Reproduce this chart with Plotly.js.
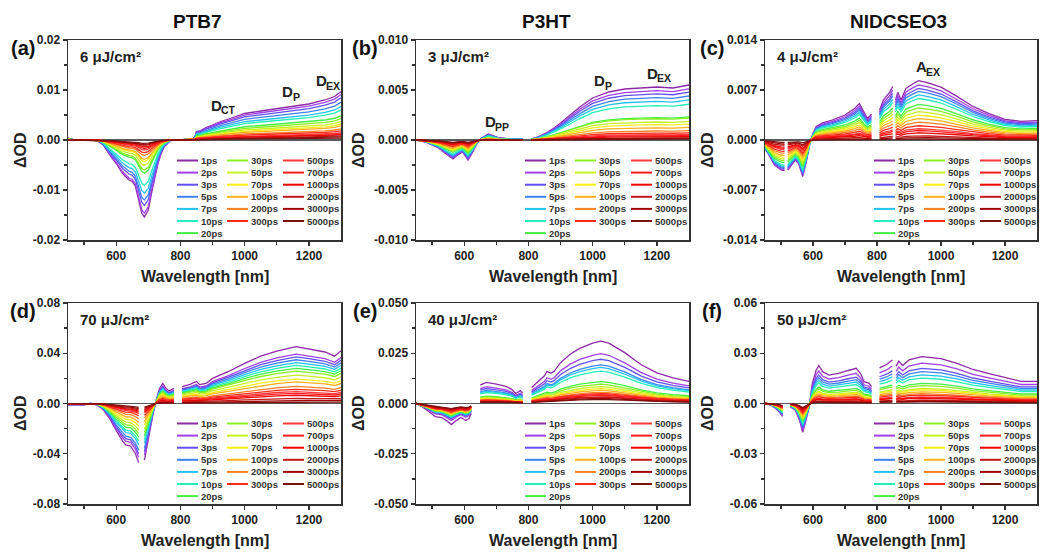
<!DOCTYPE html>
<html><head><meta charset="utf-8">
<script src="https://cdn.plot.ly/plotly-3.0.1.min.js"></script>
<style>html,body{margin:0;padding:0;background:#fff}#chart{width:1041px;height:552px}</style>
</head><body><div id="chart"></div>
<script>
// ---------- data ----------
const delays = ['1ps','2ps','3ps','5ps','7ps','10ps','20ps','30ps','50ps','70ps','100ps','200ps','300ps','500ps','700ps','1000ps','2000ps','3000ps','5000ps'];
const delayColors = ['#8e2aa8','#a040e6','#6450f2','#3f82f2','#22c2f2','#22f0b8','#44ee44','#88f020','#c8f020','#f6ee18','#ffb01a','#ff8022','#ff2a18','#ff3a3a','#ff1c1c','#ee0404','#c41818','#a00808','#7e1010'];

const panelTitles = ['PTB7','P3HT','NIDCSEO3'];
const panelLabels = ['(a)','(b)','(c)','(d)','(e)','(f)'];
const fluences = ['6 μJ/cm²','3 μJ/cm²','4 μJ/cm²','70 μJ/cm²','40 μJ/cm²','50 μJ/cm²'];

const xTickVals = [600,800,1000,1200];
const xTickText = ['600','800','1000','1200'];
const xMinorVals = [500,700,900,1100];

// y-axis ticks per panel
const yTicks_a = [-0.02,-0.01,0,0.01,0.02];   const yText_a = ['-0.02','-0.01','0.00','0.01','0.02'];
const yTicks_b = [-0.01,-0.005,0,0.005,0.01]; const yText_b = ['-0.010','-0.005','0.000','0.005','0.010'];
const yTicks_c = [-0.014,-0.007,0,0.007,0.014]; const yText_c = ['-0.014','-0.007','0.000','0.007','0.014'];
const yTicks_d = [-0.08,-0.04,0,0.04,0.08];   const yText_d = ['-0.08','-0.04','0.00','0.04','0.08'];
const yTicks_e = [-0.05,-0.025,0,0.025,0.05]; const yText_e = ['-0.050','-0.025','0.000','0.025','0.050'];
const yTicks_f = [-0.06,-0.03,0,0.03,0.06];   const yText_f = ['-0.06','-0.03','0.00','0.03','0.06'];

// (a) PTB7 6 uJ/cm2 : 1 ps spectrum
const wl_a = [450,470,500,530,545,560,580,600,620,640,650,660,670,680,688,700,710,720,730,740,750,760,770,800,840,845,850,860,880,900,925,950,1000,1050,1100,1150,1200,1250,1280,1300];
const od_a = [0.0004,0,0,0,-0.0003,-0.001,-0.003,-0.0047,-0.0067,-0.008,-0.0083,-0.0093,-0.012,-0.0147,-0.0154,-0.014,-0.0107,-0.0073,-0.0047,-0.0027,-0.0013,-0.0007,0,0,0.0003,0.0006,0.0017,0.0018,0.0025,0.003,0.0037,0.0042,0.0053,0.0058,0.0063,0.0067,0.0072,0.008,0.0087,0.0097];
// (b) P3HT 3 uJ/cm2
const wl_b = [450,480,500,520,540,565,580,595,612,625,640,655,675,690,710,750,782,795,808,830,860,880,900,930,960,1000,1050,1100,1150,1200,1250,1300];
const od_b = [0,-0.0002,-0.0005,-0.0008,-0.0013,-0.0019,-0.0015,-0.0012,-0.002,-0.0013,-0.0003,0.0002,0.0006,0.0004,0.0002,0.0001,0.0001,null,0.0001,0.0003,0.0008,0.0012,0.0017,0.0025,0.0033,0.0042,0.0048,0.0051,0.0052,0.0053,0.0052,0.0055];
// (c) NIDCSEO3 4 uJ/cm2
const wl_c = [450,460,480,500,511,515,521,535,545,555,568,580,590,600,610,630,660,700,730,745,760,770,783,795,808,820,840,849,852,858,865,875,890,910,930,960,1000,1050,1100,1150,1200,1250,1290,1300];
const od_c = [-0.0012,-0.0019,-0.0035,-0.0042,-0.0043,null,-0.0042,-0.0033,-0.0028,-0.0033,-0.0051,-0.0028,-0.0005,0.0009,0.0019,0.0024,0.0028,0.0035,0.0044,0.0051,0.0037,0.003,0.0036,null,0.0042,0.0056,0.0067,0.0075,null,0.0056,0.0067,0.0056,0.0072,0.0078,0.0083,0.008,0.0074,0.0061,0.0047,0.0037,0.0029,0.0026,0.0027,0.0027];
// (d) PTB7 70 uJ/cm2
const wl_d = [450,500,520,540,560,580,600,620,630,645,660,670,680,688,695,705,715,725,735,745,755,765,780,792,805,830,850,860,880,900,950,1000,1050,1100,1160,1200,1250,1280,1300];
const od_d = [-0.001,-0.001,0,-0.001,-0.005,-0.012,-0.0215,-0.03,-0.033,-0.034,-0.04,-0.047,null,-0.045,-0.035,-0.0215,-0.008,0.003,0.012,0.016,0.012,0.01,0.012,null,0.0135,0.0153,0.0175,0.015,0.016,0.02,0.0255,0.032,0.0377,0.0417,0.0452,0.0436,0.041,0.0377,0.042];
// (e) P3HT 40 uJ/cm2
const wl_e = [450,470,490,510,530,545,560,575,590,605,615,622,635,650,670,700,730,750,760,775,782,795,810,830,850,858,870,880,900,930,960,1000,1025,1050,1100,1150,1200,1250,1300];
const od_e = [0,-0.0017,-0.004,-0.0065,-0.007,-0.0085,-0.0105,-0.0085,-0.007,-0.0085,-0.0075,-0.005,null,0.0093,0.0105,0.0096,0.0085,0.0068,0.005,0.0064,0.005,null,0.008,0.011,0.0138,0.016,0.015,0.016,0.0203,0.0245,0.0274,0.03,0.031,0.03,0.0253,0.0194,0.0152,0.0127,0.011];
// (f) NIDCSEO3 50 uJ/cm2
const wl_f = [450,470,490,500,505,516,530,545,558,568,578,588,598,610,618,630,650,680,710,735,748,760,775,783,795,808,830,848,852,860,868,880,900,940,1000,1050,1100,1150,1200,1250,1300];
const od_f = [0,-0.001,-0.004,-0.007,-0.0077,null,-0.002,-0.004,-0.01,-0.0172,-0.01,-0.002,0.012,0.02,0.0227,0.019,0.017,0.018,0.0197,0.021,0.018,0.013,0.012,0.01,null,0.0213,0.0233,0.026,null,0.0223,0.0253,0.0227,0.026,0.028,0.0268,0.024,0.0203,0.0178,0.0156,0.0132,0.0132];

// relative amplitude of each delay vs 1 ps (positive band / negative band)
const pa_a  = [1,.94,.87,.78,.69,.62,.5,.44,.38,.33,.29,.23,.19,.15,.125,.11,.085,.065,.04];
const gsb_a = [1,.95,.85,.78,.69,.59,.43,.39,.33,.28,.25,.2,.165,.13,.11,.09,.07,.06,.045];
const pa_b  = [1,.93,.87,.8,.73,.65,.42,.4,.34,.29,.23,.17,.13,.1,.08,.06,.04,.03,.02];
const gsb_b = [1,.95,.9,.85,.8,.75,.65,.6,.55,.5,.45,.38,.33,.28,.25,.22,.18,.15,.12];
const pa_c  = [1,.93,.87,.82,.76,.7,.6,.54,.48,.42,.36,.3,.24,.19,.16,.12,.07,.04,.015];
const gsb_c = [1,.97,.93,.9,.86,.82,.74,.68,.62,.56,.5,.43,.37,.31,.27,.23,.17,.13,.08];
const pa_d  = [1,.87,.82,.77,.72,.67,.62,.57,.5,.43,.38,.3,.25,.21,.18,.145,.09,.055,.025];
const gsb_d = [1,.91,.85,.79,.7,.64,.57,.51,.45,.38,.32,.26,.21,.17,.15,.13,.11,.085,.065];
const pa_e  = [1,.8,.71,.62,.58,.52,.35,.31,.27,.24,.21,.18,.16,.145,.13,.11,.1,.08,.065];
const gsb_e = [1,.8,.72,.68,.65,.62,.58,.55,.52,.5,.47,.44,.41,.38,.36,.34,.3,.27,.24];
const pa_f  = [1,.86,.75,.68,.61,.54,.43,.38,.32,.29,.25,.21,.18,.14,.125,.11,.07,.05,.035];
const gsb_f = [1,.92,.85,.8,.75,.7,.62,.57,.52,.47,.43,.38,.34,.3,.27,.24,.2,.17,.14];

// band labels: main letter + subscript, left edge and centre y in page pixels
const bandLabels = [
  {m:'D', s:'CT', x:208.5, y:105}, {m:'D', s:'P', x:280, y:92}, {m:'D', s:'EX', x:313.5, y:81},
  {m:'D', s:'PP', x:482.5, y:122}, {m:'D', s:'P', x:592, y:81}, {m:'D', s:'EX', x:644.5, y:73},
  {m:'A', s:'EX', x:913.5, y:67}
];

// ---------- build ----------
const W = 1041, H = 552;
const FONT = 'Liberation Sans, Arial, Helvetica, sans-serif';
const boxL = [68,416,765], boxR = [341,689,1037], boxT = [40,303], boxB = [240,504];
const fx = px => px / W, fy = py => 1 - py / H;

const panels = [
  {wl:wl_a, od:od_a, pa:pa_a, gsb:gsb_a, yt:yTicks_a, ytx:yText_a},
  {wl:wl_b, od:od_b, pa:pa_b, gsb:gsb_b, yt:yTicks_b, ytx:yText_b},
  {wl:wl_c, od:od_c, pa:pa_c, gsb:gsb_c, yt:yTicks_c, ytx:yText_c},
  {wl:wl_d, od:od_d, pa:pa_d, gsb:gsb_d, yt:yTicks_d, ytx:yText_d},
  {wl:wl_e, od:od_e, pa:pa_e, gsb:gsb_e, yt:yTicks_e, ytx:yText_e},
  {wl:wl_f, od:od_f, pa:pa_f, gsb:gsb_f, yt:yTicks_f, ytx:yText_f}
];

const traces = [];
const layout = {
  width: W, height: H, margin: {l:0, r:0, t:0, b:0},
  paper_bgcolor: '#fff', plot_bgcolor: '#fff', showlegend: false,
  annotations: [], shapes: []
};
const tickFont = {family: FONT, size: 12, color: '#222', weight: 'bold'};

panels.forEach((P, k) => {
  const col = k % 3, row = Math.floor(k / 3);
  const n = k + 1, sfx = n === 1 ? '' : String(n);
  const xa = 'x' + sfx, ya = 'y' + sfx;
  delays.forEach((d, i) => {
    traces.push({
      type: 'scatter', mode: 'lines', x: P.wl,
      y: P.od.map(v => v === null ? null : v * (v < 0 ? P.gsb[i] : P.pa[i])),
      xaxis: xa, yaxis: ya, name: d, connectgaps: false, hoverinfo: 'skip',
      line: {color: delayColors[i], width: 1.3}
    });
  });
  const yMax = P.yt[P.yt.length - 1];
  const minorY = [];
  for (let j = 0; j < P.yt.length - 1; j++) minorY.push((P.yt[j] + P.yt[j+1]) / 2);
  layout['xaxis' + sfx] = {
    domain: [fx(boxL[col]), fx(boxR[col])], anchor: ya, range: [450, 1300],
    tickmode: 'array', tickvals: xTickVals, ticktext: xTickText,
    ticks: 'outside', ticklen: 4, tickwidth: 1.3, tickcolor: '#333',
    minor: {tickmode: 'array', tickvals: xMinorVals, ticks: 'outside', ticklen: 3, tickwidth: 1.3, tickcolor: '#333'},
    showline: true, mirror: true, linecolor: '#333', linewidth: 1.5,
    showgrid: false, zeroline: false, tickfont: tickFont, fixedrange: true
  };
  layout['yaxis' + sfx] = {
    domain: [fy(boxB[row]), fy(boxT[row])], anchor: xa, range: [-yMax, yMax],
    tickmode: 'array', tickvals: P.yt, ticktext: P.ytx,
    ticks: 'outside', ticklen: 4, tickwidth: 1.3, tickcolor: '#333',
    minor: {tickmode: 'array', tickvals: minorY, ticks: 'outside', ticklen: 3, tickwidth: 1.3, tickcolor: '#333'},
    showline: true, mirror: true, linecolor: '#333', linewidth: 1.5,
    showgrid: false, zeroline: true, zerolinecolor: '#5a5a5a', zerolinewidth: 1.5,
    tickfont: tickFont, fixedrange: true
  };

  const A = layout.annotations;
  const cx = (boxL[col] + boxR[col]) / 2;
  A.push({xref:'paper', yref:'paper', x: fx(cx), y: fy(boxB[row] + 36), text: 'Wavelength [nm]', showarrow:false,
          xanchor:'center', yanchor:'middle', font:{family:FONT, size:16, color:'#222', weight:'bold'}});
  A.push({xref:'paper', yref:'paper', x: fx([20,358,707][col]), y: fy(boxT[row] + 110), text: 'ΔOD', textangle: -90, showarrow:false,
          xanchor:'center', yanchor:'middle', font:{family:FONT, size:16, color:'#222', weight:'bold'}});
  A.push({xref:'paper', yref:'paper', x: fx([23,365,712][col]), y: fy(boxT[row] + 8), text: panelLabels[k], showarrow:false,
          xanchor:'center', yanchor:'middle', font:{family:FONT, size:20, color:'#111', weight:'bold'}});
  A.push({xref:'paper', yref:'paper', x: fx(boxL[col] + 10), y: fy(boxT[row] + 16), text: fluences[k], showarrow:false,
          xanchor:'left', yanchor:'middle', font:{family:FONT, size:15, color:'#222', weight:'bold'}});
  // legend (3 columns)
  delays.forEach((d, i) => {
    const c = i < 7 ? 0 : (i < 13 ? 1 : 2);
    const r = i < 7 ? i : (i < 13 ? i - 7 : i - 13);
    const x0 = boxL[col] + [109, 159, 215][c];
    const yy = boxT[row] + 120.5 + 12.1 * r;
    layout.shapes.push({type:'line', xref:'paper', yref:'paper', x0: fx(x0), x1: fx(x0 + 21), y0: fy(yy), y1: fy(yy),
                        line:{color: delayColors[i], width: 2}});
    A.push({xref:'paper', yref:'paper', x: fx(x0 + 22), y: fy(yy), text: d, showarrow:false,
            xanchor:'left', yanchor:'middle', font:{family:FONT, size:9.5, color:'#333', weight:'bold'}});
  });
});

panelTitles.forEach((t, c) => {
  layout.annotations.push({xref:'paper', yref:'paper', x: fx([197,546,898][c]), y: fy(22), text: t, showarrow:false,
    xanchor:'center', yanchor:'middle', font:{family:FONT, size:19, color:'#111', weight:'bold'}});
});
bandLabels.forEach(b => {
  layout.annotations.push({xref:'paper', yref:'paper', x: fx(b.x), y: fy(b.y), text: b.m, showarrow:false,
    xanchor:'left', yanchor:'middle', font:{family:FONT, size:15, color:'#222', weight:'bold'}});
  layout.annotations.push({xref:'paper', yref:'paper', x: fx(b.x + 10.5), y: fy(b.y + 5), text: b.s, showarrow:false,
    xanchor:'left', yanchor:'middle', font:{family:FONT, size:10.5, color:'#222', weight:'bold'}});
});

Plotly.newPlot('chart', traces, layout, {displayModeBar: false, staticPlot: true});
</script>
</body></html>
